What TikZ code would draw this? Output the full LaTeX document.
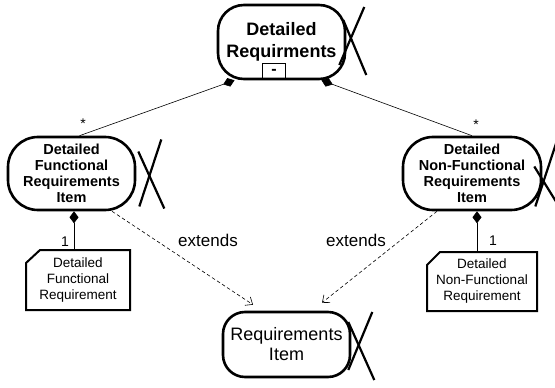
\documentclass[tikz,border=0pt]{standalone}
\usepackage{fontspec}
\setmainfont{Liberation Sans}
\usetikzlibrary{arrows.meta}
\begin{document}
\begin{tikzpicture}[x=1pt,y=-1pt,
  stad/.style={draw, line width=2.6pt, align=center, inner sep=0pt},
  notebox/.style={align=center, inner sep=0pt, outer sep=0pt},
  noteline/.style={line width=2pt, line join=miter},
  xmark/.style={line width=2.2pt},
  comp/.style={line width=0.6pt, {Diamond[length=12pt,width=9pt]}-},
  ext/.style={dash pattern=on 3.5pt off 2.5pt, line width=0.6pt, -{Straight Barb[length=6pt,width=10pt]}},
  lbl/.style={inner sep=0pt}]
\useasboundingbox (0,0) rectangle (555,388);

% main nodes
\node[stad, rounded corners=26pt, minimum width=127pt, minimum height=74pt,
      font=\fontsize{18}{22}\selectfont\bfseries] (top) at (281.5,42) {Detailed\\Requirments};
\node[stad, rounded corners=30pt, minimum width=127pt, minimum height=73pt,
      font=\fontsize{14.5}{16}\selectfont\bfseries] (left) at (71.5,173.5) {Detailed\\Functional\\Requirements\\Item};
\node[stad, rounded corners=30pt, minimum width=138pt, minimum height=73pt,
      font=\fontsize{14.5}{16}\selectfont\bfseries] (right) at (472,173.5) {Detailed\\Non-Functional\\Requirements\\Item};
\node[stad, rounded corners=22pt, minimum width=127pt, minimum height=65pt,
      font=\fontsize{18}{20}\selectfont] (bot) at (286.5,344.5) {Requirements\\Item};

% X marks
\draw[xmark] ([shift={(18,-35)}]top.east) -- ([shift={(-7,23)}]top.east);
\draw[xmark] ([shift={(-3,-22)}]top.east) -- ([shift={(20,33)}]top.east);
\draw[xmark] ([shift={(25,-34)}]left.east) -- ([shift={(3,33)}]left.east);
\draw[xmark] ([shift={(2,-22)}]left.east) -- ([shift={(28,35)}]left.east);
\draw[xmark] ([shift={(15,-34)}]right.east) -- ([shift={(-7,33)}]right.east);
\draw[xmark] ([shift={(-8,-7)}]right.east) -- ([shift={(18,35)}]right.east);
\draw[xmark] ([shift={(21,-32.5)}]bot.east) -- ([shift={(-3,25.5)}]bot.east);
\draw[xmark] ([shift={(-3,-22.5)}]bot.east) -- ([shift={(23,35.5)}]bot.east);

% small "-" box
\node[draw, line width=0.9pt, minimum width=23pt, minimum height=16pt, inner sep=0pt,
      font=\fontsize{16}{16}\selectfont\bfseries, anchor=south] (minus) at ([xshift=-7.5pt]top.south) {-};

% note boxes
\node[notebox, minimum width=104pt, minimum height=60pt,
      font=\fontsize{13.5}{16}\selectfont] (fbox) at (78,280) {Detailed\\Functional\\Requirement};
\draw[noteline] (fbox.south west) -- (fbox.south east) -- (fbox.north east)
  -- ([xshift=14pt]fbox.north west) -- ([yshift=-13pt]fbox.north west) -- cycle;
\node[notebox, minimum width=110pt, minimum height=59pt,
      font=\fontsize{13.5}{16}\selectfont] (rbox) at (482,281.5) {Detailed\\Non-Functional\\Requirement};
\draw[noteline] (rbox.south west) -- (rbox.south east) -- (rbox.north east)
  -- ([xshift=13pt]rbox.north west) -- ([yshift=-13pt]rbox.north west) -- cycle;

% composition connectors
\draw[comp] ([xshift=-47pt]top.south) -- ([xshift=8pt]left.north);
\draw[comp] ([xshift=40pt]top.south) -- (right.north);
\draw[comp] ([xshift=2.5pt]left.south) -- ([xshift=-4pt]fbox.north);
\draw[comp] ([xshift=5pt]right.south) -- ([xshift=-5pt]rbox.north);

% extends connectors
\draw[ext] ([xshift=40.5pt]left.south) -- ([xshift=-33.5pt,yshift=6pt]bot.north);
\draw[ext] ([xshift=-35pt]right.south) -- ([xshift=35.5pt,yshift=8pt]bot.north);

% labels
\node[lbl, font=\fontsize{17}{17}\selectfont] (e1) at (208,240) {extends};
\node[lbl, font=\fontsize{17}{17}\selectfont] (e2) at (356,240) {extends};
\node[lbl, font=\fontsize{14}{14}\selectfont] (s1) at (83,124) {*};
\node[lbl, font=\fontsize{14}{14}\selectfont] (s2) at (476,125) {*};
\node[lbl, font=\fontsize{14}{14}\selectfont] (m1) at (65,242) {1};
\node[lbl, font=\fontsize{14}{14}\selectfont] (m2) at (493,241) {1};
\end{tikzpicture}
\end{document}
